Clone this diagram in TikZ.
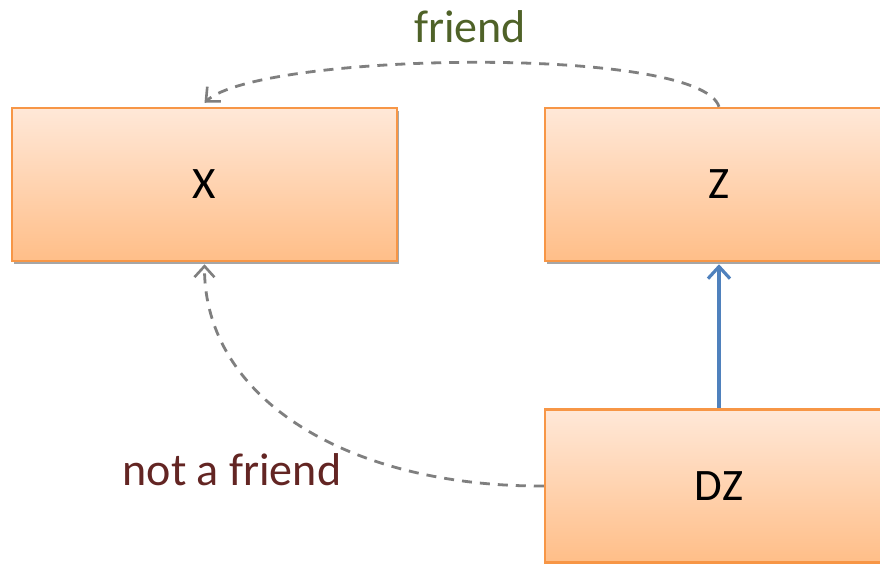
\documentclass[tikz,border=0pt]{standalone}
\usepackage{fontspec}
\setmainfont{Carlito}
\usetikzlibrary{shadows,arrows.meta}
\definecolor{boxtop}{HTML}{FFE8D8}
\definecolor{boxbot}{HTML}{FFBE88}
\definecolor{boxline}{HTML}{F79646}
\definecolor{dashgray}{HTML}{7F7F7F}
\definecolor{bluearr}{HTML}{4F81BD}
\definecolor{friendgreen}{HTML}{4F6228}
\definecolor{notred}{HTML}{632523}
\tikzset{
  classbox/.style={rectangle, draw=boxline, line width=2.5pt, top color=boxtop, bottom color=boxbot,
    minimum width=#1, minimum height=153pt, inner sep=0pt,
    font=\fontsize{45}{50}\selectfont,
    drop shadow={shadow xshift=2pt, shadow yshift=-3pt, opacity=0.35, fill=black}},
  dasharrow/.style={draw=dashgray, line width=2.8pt, dash pattern=on 10pt off 8pt,
    -{Straight Barb[length=11pt,width=20pt,line width=2.6pt]}},
  bluearrow/.style={draw=bluearr, line width=3.2pt, -{Straight Barb[length=12pt,width=22pt,line width=3.2pt]}},
  lbl/.style={font=\fontsize{46}{50}\selectfont}
}
\begin{document}
\begin{tikzpicture}[x=1pt,y=-1pt]
\clip (0,0) rectangle (880,563);
\fill[white] (0,0) rectangle (880,563);
\node[classbox=385pt] (X) at (204.5,184.5) {X};
\node[classbox=348pt] (Z) at (719,184.5) {Z};
\node[classbox=348pt] (DZ) at (719,486) {DZ};
\draw[dasharrow] (Z.north) .. controls (700,45) and (260,52) .. ([yshift=4pt]X.north);
\draw[dasharrow] (DZ.west) .. controls (350,487) and (204,400) .. ([yshift=-2pt]X.south);
\draw[bluearrow] (DZ.north) -- ([yshift=-2pt]Z.south);
\node[lbl, text=friendgreen] (f) at (470,27) {friend};
\node[lbl, text=notred] (nf) at (232,470) {not a friend};
\end{tikzpicture}
\end{document}
